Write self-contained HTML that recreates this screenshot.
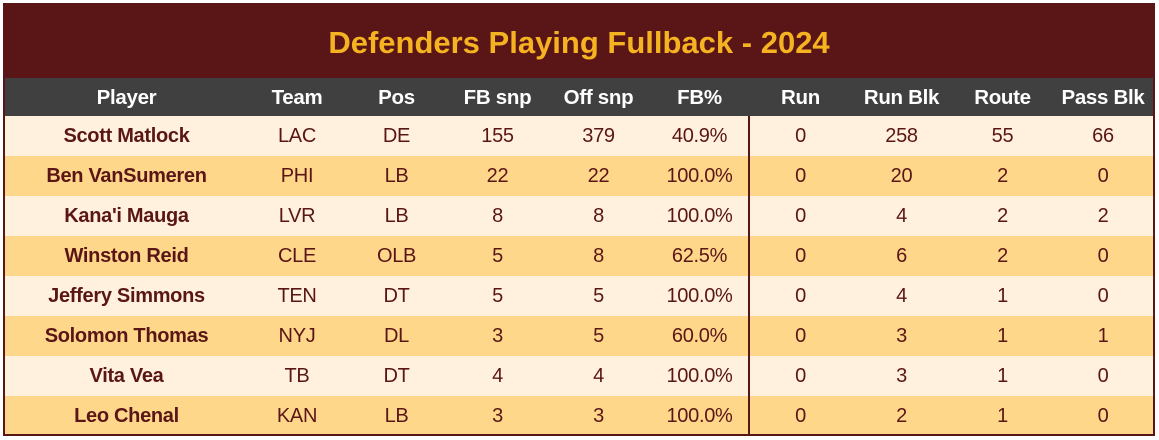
<!DOCTYPE html>
<html><head><style>
body{margin:0;width:1159px;height:440px;background:#fff;font-family:"Liberation Sans",sans-serif;position:relative;overflow:hidden}
.box{position:absolute;left:3px;top:3px;width:1148px;height:429px;border:2px solid #5a1616;background:#5a1616}
.title{position:absolute;left:0;top:0;width:1148px;height:73px;line-height:76px;text-align:center;color:#f5b221;font-weight:bold;font-size:31px}
.row{position:absolute;left:0;width:1148px;height:40px;display:flex}
.row div{text-align:center;line-height:40px;font-size:20px;color:#5a1616;letter-spacing:-0.3px}
.hdr{top:73px;height:38px;background:#404040}
.hdr div{color:#fff;font-weight:bold;line-height:40px;font-size:20.5px}
.c0{width:243px;font-weight:bold}.c1{width:98px}.c2{width:101px}.c3{width:101px}.c4{width:101px}.c5{width:101px}.c6{width:101px}.c7{width:101px}.c8{width:101px}.c9{width:100px}
.l{background:#fff1dd}.d{background:#ffd78a}
.vl{position:absolute;left:743px;top:111px;width:2px;height:318px;background:#5a1616}
</style></head><body>
<div class="box">
<div class="title">Defenders Playing Fullback - 2024</div>
<div class="row hdr"><div class="c0">Player</div><div class="c1">Team</div><div class="c2">Pos</div><div class="c3">FB snp</div><div class="c4">Off snp</div><div class="c5">FB%</div><div class="c6">Run</div><div class="c7">Run Blk</div><div class="c8">Route</div><div class="c9">Pass Blk</div></div>
<div class="row l" style="top:111px"><div class="c0">Scott Matlock</div><div class="c1">LAC</div><div class="c2">DE</div><div class="c3">155</div><div class="c4">379</div><div class="c5">40.9%</div><div class="c6">0</div><div class="c7">258</div><div class="c8">55</div><div class="c9">66</div></div>
<div class="row d" style="top:151px"><div class="c0">Ben VanSumeren</div><div class="c1">PHI</div><div class="c2">LB</div><div class="c3">22</div><div class="c4">22</div><div class="c5">100.0%</div><div class="c6">0</div><div class="c7">20</div><div class="c8">2</div><div class="c9">0</div></div>
<div class="row l" style="top:191px"><div class="c0">Kana'i Mauga</div><div class="c1">LVR</div><div class="c2">LB</div><div class="c3">8</div><div class="c4">8</div><div class="c5">100.0%</div><div class="c6">0</div><div class="c7">4</div><div class="c8">2</div><div class="c9">2</div></div>
<div class="row d" style="top:231px"><div class="c0">Winston Reid</div><div class="c1">CLE</div><div class="c2">OLB</div><div class="c3">5</div><div class="c4">8</div><div class="c5">62.5%</div><div class="c6">0</div><div class="c7">6</div><div class="c8">2</div><div class="c9">0</div></div>
<div class="row l" style="top:271px"><div class="c0">Jeffery Simmons</div><div class="c1">TEN</div><div class="c2">DT</div><div class="c3">5</div><div class="c4">5</div><div class="c5">100.0%</div><div class="c6">0</div><div class="c7">4</div><div class="c8">1</div><div class="c9">0</div></div>
<div class="row d" style="top:311px"><div class="c0">Solomon Thomas</div><div class="c1">NYJ</div><div class="c2">DL</div><div class="c3">3</div><div class="c4">5</div><div class="c5">60.0%</div><div class="c6">0</div><div class="c7">3</div><div class="c8">1</div><div class="c9">1</div></div>
<div class="row l" style="top:351px"><div class="c0">Vita Vea</div><div class="c1">TB</div><div class="c2">DT</div><div class="c3">4</div><div class="c4">4</div><div class="c5">100.0%</div><div class="c6">0</div><div class="c7">3</div><div class="c8">1</div><div class="c9">0</div></div>
<div class="row d" style="top:391px;height:38px"><div class="c0">Leo Chenal</div><div class="c1">KAN</div><div class="c2">LB</div><div class="c3">3</div><div class="c4">3</div><div class="c5">100.0%</div><div class="c6">0</div><div class="c7">2</div><div class="c8">1</div><div class="c9">0</div></div>
<div class="vl"></div>
</div>
</body></html>
